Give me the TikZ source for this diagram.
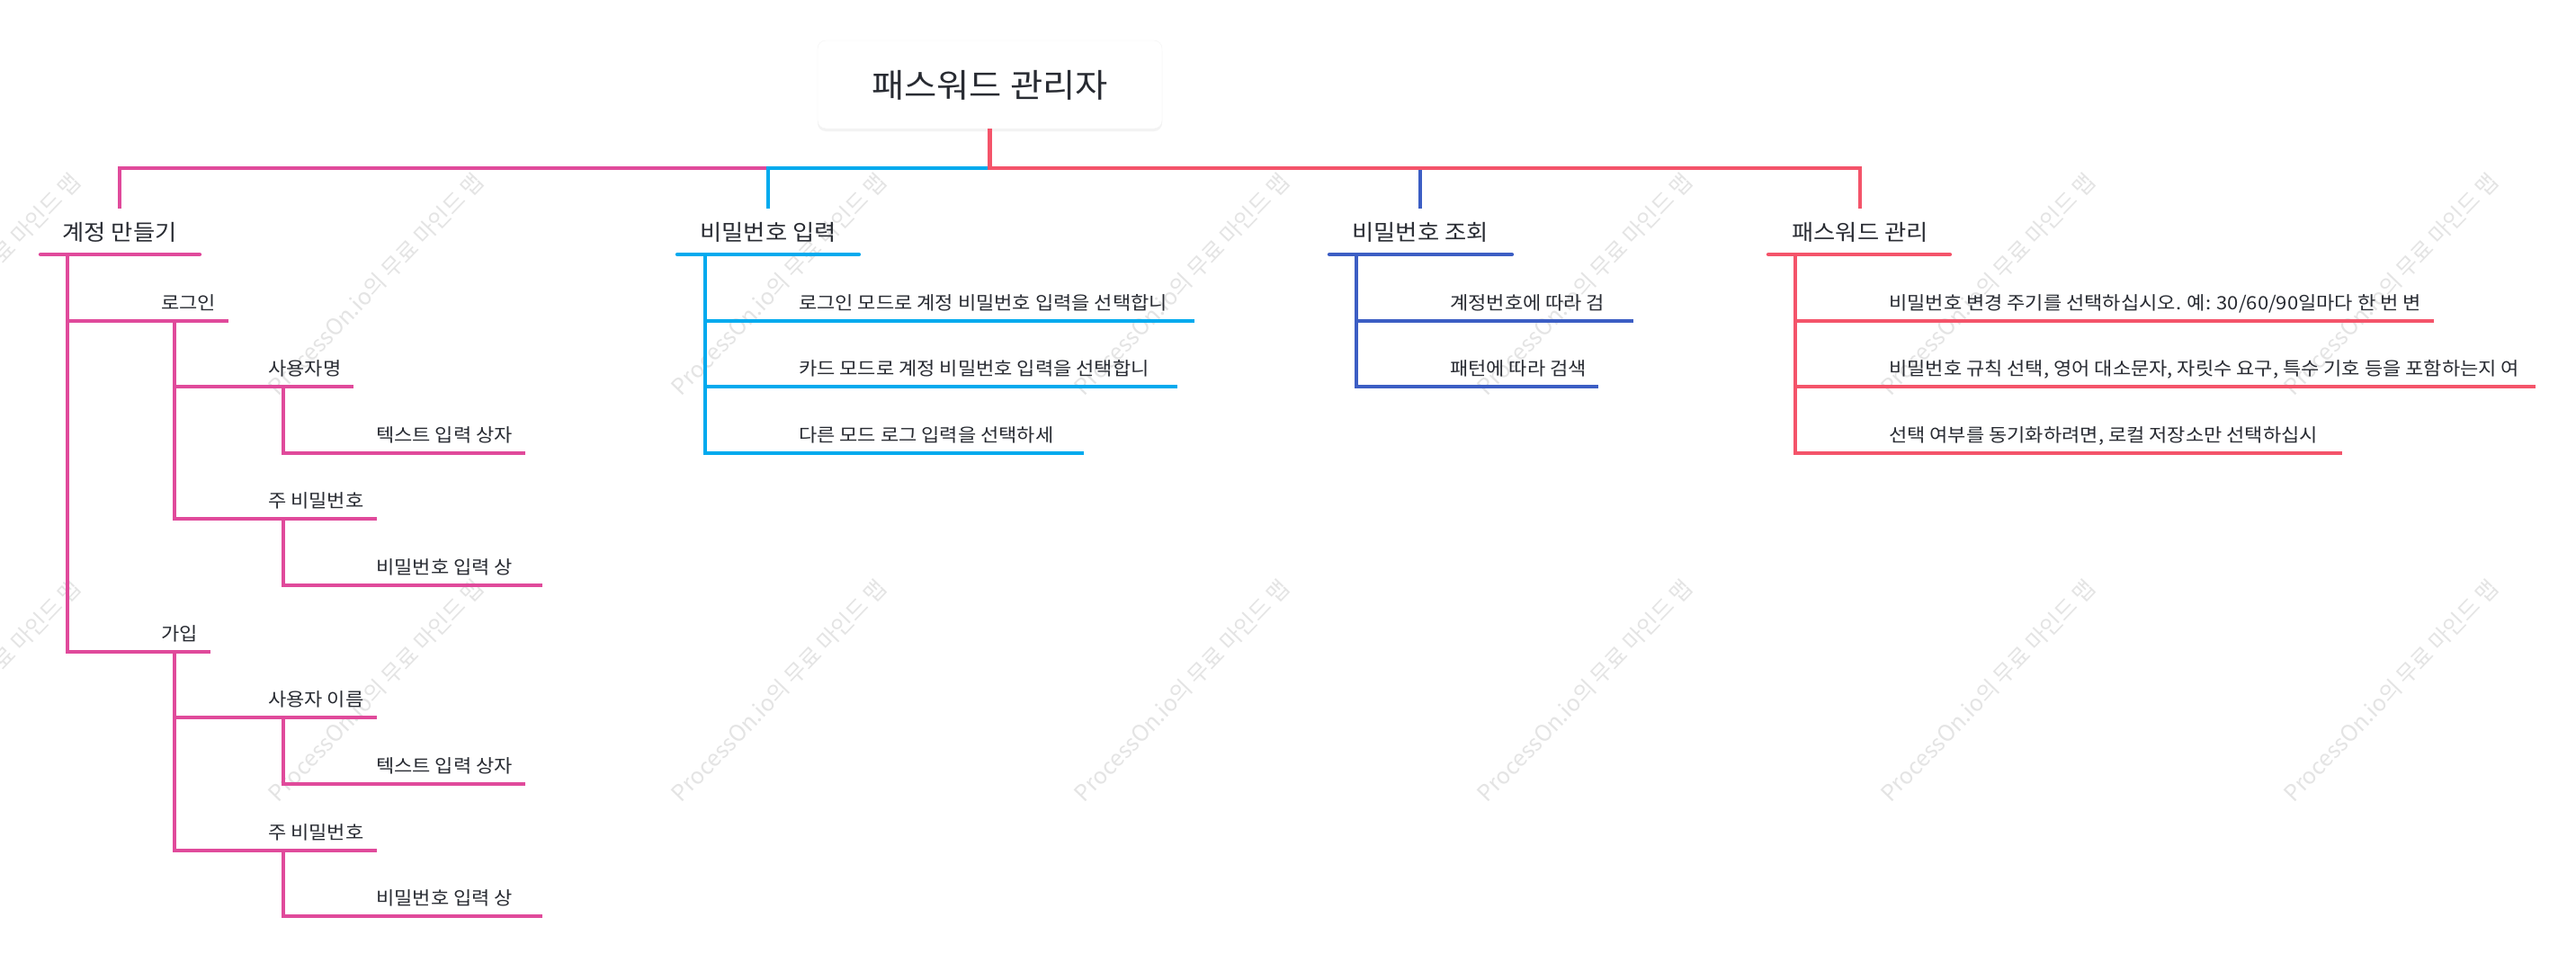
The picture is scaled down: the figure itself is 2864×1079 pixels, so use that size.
\documentclass[tikz,border=0pt]{standalone}
\usepackage{fontspec}
\setmainfont{Noto Sans CJK KR}
\newfontfamily\krw[FakeStretch=1.08]{Noto Sans CJK KR}
\usetikzlibrary{shadows}
\definecolor{cpink}{RGB}{224,74,155}
\definecolor{cblue}{RGB}{0,170,238}
\definecolor{cnavy}{RGB}{60,94,196}
\definecolor{cred}{RGB}{244,84,106}
\definecolor{ctext}{RGB}{40,43,50}
\definecolor{cwm}{RGB}{228,228,228}
\begin{document}
\begin{tikzpicture}[x=1pt,y=-1pt,
  conn/.style={line width=4.3pt},
  under/.style={line width=4.3pt, line cap=round},
  lbl/.style={inner sep=0pt, anchor=base west, text=ctext, font=\krw\fontsize{20.4}{24}\selectfont},
  lone/.style={inner sep=0pt, anchor=base, text=ctext, font=\krw\fontsize{24.4}{28}\selectfont},
  wmark/.style={rotate=46, text=cwm, font=\fontsize{25}{30}\selectfont, inner sep=0pt}]
\useasboundingbox[fill=white] (0,0) rectangle (2864,1079);

% watermark
\foreach \i in {0,...,6}{
  \foreach \j/\yy in {0/-136,1/316,2/768}{
    \node[wmark] (wm-\i-\j) at ({-30+448*\i},\yy) {ProcessOn.io의 무료 마인드 맵};
  }
}

% root
\node[draw=black!5, fill=white, rounded corners=9pt, minimum width=383pt, minimum height=98pt,
      text height=29pt, text depth=0pt, text=ctext, font=\krw\fontsize{36.5}{40}\selectfont,
      drop shadow={shadow xshift=0pt, shadow yshift=-3pt, opacity=0.09}]
      (root) at (1100.5,94) {패스워드 관리자};
\coordinate (bus) at (1101,187);

% level 1
\node[lone] (k0) at (133,267) {계정 만들기};
\node[lone] (b0) at (854,267) {비밀번호 입력};
\node[lone] (n0) at (1579,267) {비밀번호 조회};
\node[lone] (r0) at (2068,267) {패스워드 관리};
\coordinate (k0t) at (133,232);
\coordinate (b0t) at (854,232);
\coordinate (n0t) at (1579,232);
\coordinate (r0t) at (2068,232);

\draw[conn,cpink] (root.south) -- (root.south |- bus) -| (k0t);
\draw[conn,cblue] (root.south |- bus) -| (b0t);
\draw[conn,cnavy] (root.south |- bus) -| (n0t);
\draw[conn,cred] (root.south) -- (root.south |- bus) -| (r0t);

\coordinate (k0a) at (45,283);   \coordinate (k0b) at (222,283);
\coordinate (b0a) at (753,283);  \coordinate (b0b) at (955,283);
\coordinate (n0a) at (1478,283); \coordinate (n0b) at (1681,283);
\coordinate (r0a) at (1966,283); \coordinate (r0b) at (2168,283);
\draw[under,cpink] (k0a) -- (k0b);
\draw[under,cblue] (b0a) -- (b0b);
\draw[under,cnavy] (n0a) -- (n0b);
\draw[under,cred] (r0a) -- (r0b);

\coordinate (k0v) at (75,283);
\coordinate (b0v) at (784,283);
\coordinate (n0v) at (1508,283);
\coordinate (r0v) at (1996,283);

% pink branch
\node[lbl] (k1) at (179,344) {로그인};
\coordinate (k1e) at (254,357); \coordinate (k1v) at (194,357);
\node[lbl] (k11) at (298,417) {사용자명};
\coordinate (k11e) at (393,430); \coordinate (k11v) at (315,430);
\node[lbl] (k111) at (418,491) {텍스트 입력 상자};
\coordinate (k111e) at (584,504);
\node[lbl] (k12) at (298,564) {주 비밀번호};
\coordinate (k12e) at (419,577); \coordinate (k12v) at (315,577);
\node[lbl] (k121) at (418,638) {비밀번호 입력 상};
\coordinate (k121e) at (603,651);
\node[lbl] (k2) at (179,712) {가입};
\coordinate (k2e) at (234,725); \coordinate (k2v) at (194,725);
\node[lbl] (k21) at (298,785) {사용자 이름};
\coordinate (k21e) at (419,798); \coordinate (k21v) at (315,798);
\node[lbl] (k211) at (418,859) {텍스트 입력 상자};
\coordinate (k211e) at (584,872);
\node[lbl] (k22) at (298,933) {주 비밀번호};
\coordinate (k22e) at (419,946); \coordinate (k22v) at (315,946);
\node[lbl] (k221) at (418,1006) {비밀번호 입력 상};
\coordinate (k221e) at (603,1019);

\begin{scope}[conn,cpink]
\draw (k0v) |- (k1e);
\draw (k0v) |- (k2e);
\draw (k1v) |- (k11e);
\draw (k1v) |- (k12e);
\draw (k11v) |- (k111e);
\draw (k12v) |- (k121e);
\draw (k2v) |- (k21e);
\draw (k2v) |- (k22e);
\draw (k21v) |- (k211e);
\draw (k22v) |- (k221e);
\end{scope}

% blue branch
\node[lbl] (b1) at (888,344) {로그인 모드로 계정 비밀번호 입력을 선택합니};
\coordinate (b1e) at (1328,357);
\node[lbl] (b2) at (888,417) {카드 모드로 계정 비밀번호 입력을 선택합니};
\coordinate (b2e) at (1309,430);
\node[lbl] (b3) at (888,491) {다른 모드 로그 입력을 선택하세};
\coordinate (b3e) at (1205,504);
\begin{scope}[conn,cblue]
\draw (b0v) |- (b1e);
\draw (b0v) |- (b2e);
\draw (b0v) |- (b3e);
\end{scope}

% navy branch
\node[lbl] (n1) at (1612,344) {계정번호에 따라 검};
\coordinate (n1e) at (1816,357);
\node[lbl] (n2) at (1612,417) {패턴에 따라 검색};
\coordinate (n2e) at (1777,430);
\begin{scope}[conn,cnavy]
\draw (n0v) |- (n1e);
\draw (n0v) |- (n2e);
\end{scope}

% red branch
\node[lbl] (r1) at (2100,344) {비밀번호 변경 주기를 선택하십시오. 예: 30/60/90일마다 한 번 변};
\coordinate (r1e) at (2706,357);
\node[lbl] (r2) at (2100,417) {비밀번호 규칙 선택, 영어 대소문자, 자릿수 요구, 특수 기호 등을 포함하는지 여};
\coordinate (r2e) at (2819,430);
\node[lbl] (r3) at (2100,491) {선택 여부를 동기화하려면, 로컬 저장소만 선택하십시};
\coordinate (r3e) at (2604,504);
\begin{scope}[conn,cred]
\draw (r0v) |- (r1e);
\draw (r0v) |- (r2e);
\draw (r0v) |- (r3e);
\end{scope}
\end{tikzpicture}
\end{document}
